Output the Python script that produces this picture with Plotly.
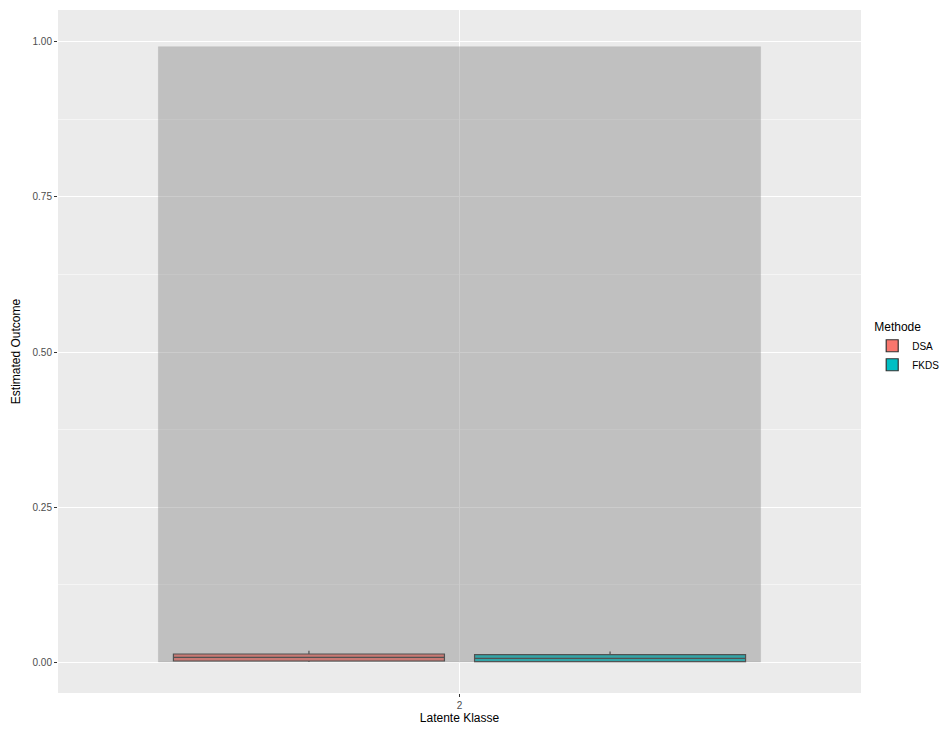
import plotly.graph_objects as go

# ---- data ----
category_label = ["2"]
category_pos = [1.0]
methods = ["DSA", "FKDS"]
method_colors = ["#F8766D", "#00BFC4"]
method_offsets = [-0.225, 0.225]
q1 = [0.0016, 0.0005]
median = [0.0075, 0.0060]
q3 = [0.0129, 0.0118]
lowerfence = [0.0000, 0.0000]
upperfence = [0.0180, 0.0170]
band_top = [0.9925]
band_bottom = [0.0]
band_halfwidth = 0.45
y_ticks = [0.0, 0.25, 0.5, 0.75, 1.0]
y_ticktext = ["0.00", "0.25", "0.50", "0.75", "1.00"]

fig = go.Figure()

for i, m in enumerate(methods):
    fig.add_trace(go.Box(
        name=m,
        x=[category_pos[0] + method_offsets[i]],
        q1=[q1[i]], median=[median[i]], q3=[q3[i]],
        lowerfence=[lowerfence[i]], upperfence=[upperfence[i]],
        width=0.405,
        fillcolor=method_colors[i],
        line=dict(color="#333333", width=1.2),
        whiskerwidth=0,
        boxpoints=False,
        showlegend=True,
        hoverinfo="skip",
    ))

# translucent band drawn above the boxes
cx = category_pos[0]
band_x = [cx - band_halfwidth, cx + band_halfwidth, cx + band_halfwidth, cx - band_halfwidth, cx - band_halfwidth]
band_y = [band_bottom[0], band_bottom[0], band_top[0], band_top[0], band_bottom[0]]
fig.add_trace(go.Scatter(
    x=band_x, y=band_y, mode="lines", fill="toself",
    fillcolor="rgba(127,127,127,0.4)",
    line=dict(width=0.6, color="rgba(127,127,127,0.25)"),
    showlegend=False, hoverinfo="skip",
))

font_family = "Liberation Sans, Arial, sans-serif"
fig.update_layout(
    width=946, height=729,
    margin=dict(l=58, r=85, t=10, b=36),
    paper_bgcolor="white",
    plot_bgcolor="#EBEBEB",
    font=dict(family=font_family, color="black"),
    boxmode="overlay",
    legend=dict(
        title=dict(text="Methode", font=dict(size=12, color="black")),
        font=dict(size=10, color="black"),
        xref="container", yref="container",
        x=0.922, xanchor="left", y=0.567, yanchor="top",
        bgcolor="rgba(0,0,0,0)",
        tracegroupgap=2,
    ),
    xaxis=dict(
        range=[0.4, 1.6],
        tickvals=category_pos, ticktext=category_label,
        ticks="outside", ticklen=3, tickcolor="#333333",
        tickfont=dict(size=10, color="#4D4D4D"),
        showgrid=True, gridcolor="white", gridwidth=1,
        zeroline=False, showline=False, automargin=False,
        title=dict(text="Latente Klasse", font=dict(size=12, color="black"), standoff=2),
    ),
    yaxis=dict(
        range=[-0.05, 1.0516],
        tickvals=y_ticks, ticktext=y_ticktext,
        ticks="outside", ticklen=3, tickcolor="#333333",
        tickfont=dict(size=10, color="#4D4D4D"),
        showgrid=True, gridcolor="white", gridwidth=1.2,
        minor=dict(dtick=0.125, tick0=0, showgrid=True, gridcolor="#F5F5F5", gridwidth=0.6),
        zeroline=False, showline=False, automargin=False,
        title=dict(text="Estimated Outcome", font=dict(size=12, color="black"), standoff=9),
    ),
)

fig.write_html(
    "out.html",
    config={"displayModeBar": False},
    post_script="document.body.style.margin='0';document.body.style.padding='0';"
                "document.documentElement.style.overflow='hidden';",
)
